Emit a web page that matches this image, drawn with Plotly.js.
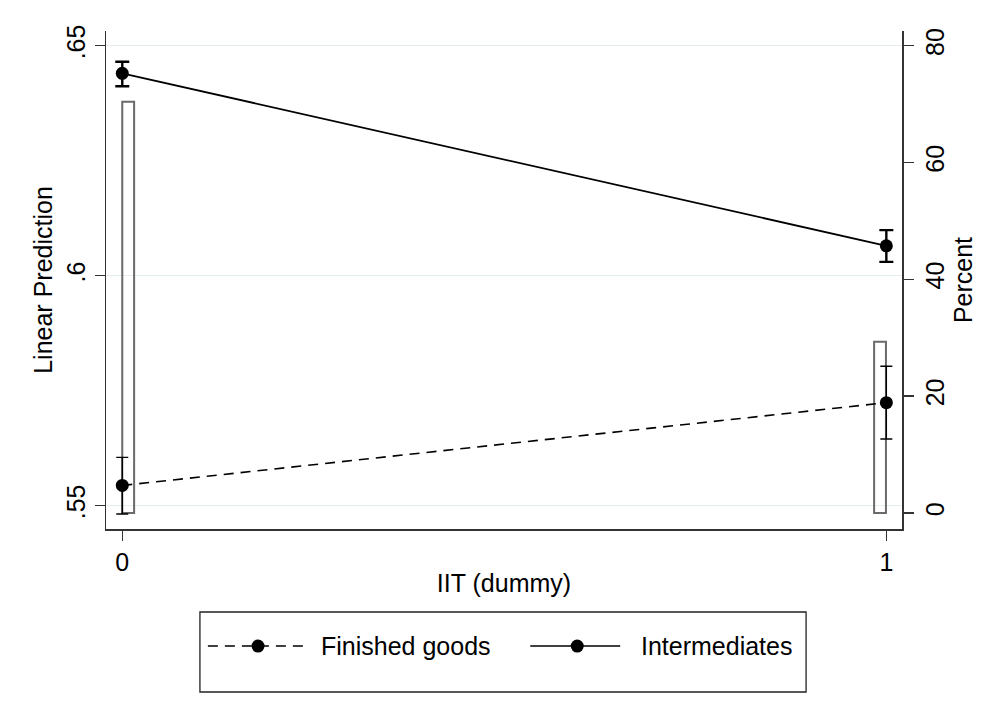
<!DOCTYPE html>
<html>
<head>
<meta charset="utf-8">
<script src="https://cdn.plot.ly/plotly-3.0.1.min.js"></script>
<style>
  html, body { margin: 0; padding: 0; background: #ffffff; }
  #chart { width: 988px; height: 725px; }
</style>
</head>
<body>
<div id="chart"></div>
<script>
// IIT dummy categories and margins (linear prediction with 95% CI)
const iit = [0, 1];
const xTickText = ['0', '1'];

const finishedFit = [0.5544, 0.5724];
const finishedLo  = [0.5482, 0.5645];
const finishedHi  = [0.5605, 0.5803];

const interFit = [0.6440, 0.6065];
const interLo  = [0.6412, 0.6030];
const interHi  = [0.6465, 0.6099];

// Histogram of the IIT dummy (percent of observations per bin)
const binStart = [0, 0.984];
const percent  = [70.4, 29.3];

const seriesNames = ['Finished goods', 'Intermediates'];
const leftTicks = [0.55, 0.6, 0.65];
const leftTickText = ['.55', '.6', '.65'];
const rightTicks = [0, 20, 40, 60, 80];
const rightTickText = ['0', '20', '40', '60', '80'];

const FONT = 'Liberation Sans, Arial, Helvetica, sans-serif';
const FS = 25;
const BIN_W = 0.0155;
const DASH = '10px,7px';

function diff(a, b) { return a.map((v, i) => v - b[i]); }

const histTrace = {
  type: 'bar',
  x: binStart,
  y: percent,
  width: BIN_W,
  offset: 0,
  xaxis: 'x',
  yaxis: 'y',
  marker: { color: 'rgba(0,0,0,0)', line: { color: '#6a6a6a', width: 2 } },
  showlegend: false,
  hoverinfo: 'skip'
};

const finishedTrace = {
  type: 'scatter',
  mode: 'lines+markers',
  name: seriesNames[0],
  x: iit,
  y: finishedFit,
  xaxis: 'x',
  yaxis: 'y2',
  line: { color: '#000000', width: 1.6, dash: DASH },
  marker: { color: '#000000', size: 13 },
  error_y: {
    type: 'data', symmetric: false,
    array: diff(finishedHi, finishedFit),
    arrayminus: diff(finishedFit, finishedLo),
    color: '#000000', thickness: 1.4, width: 6
  },
  showlegend: false
};

const interTrace = {
  type: 'scatter',
  mode: 'lines+markers',
  name: seriesNames[1],
  x: iit,
  y: interFit,
  xaxis: 'x',
  yaxis: 'y2',
  line: { color: '#000000', width: 1.8 },
  marker: { color: '#000000', size: 13 },
  error_y: {
    type: 'data', symmetric: false,
    array: diff(interHi, interFit),
    arrayminus: diff(interFit, interLo),
    color: '#000000', thickness: 2.4, width: 7
  },
  showlegend: false
};

// Custom legend box below the plot area (paper coordinates)
const legY = -0.235;
const legendItems = [
  { x0: 0.128, x1: 0.250, xm: 0.191, xt: 0.268, dash: 'dash' },
  { x0: 0.533, x1: 0.646, xm: 0.592, xt: 0.670, dash: 'solid' }
];
const shapes = [
  { type: 'rect', xref: 'paper', yref: 'paper', x0: 0.118, x1: 0.8795, y0: -0.3273, y1: -0.1667,
    line: { color: '#222222', width: 1.3 }, fillcolor: 'rgba(0,0,0,0)' }
];
const annotations = [];
legendItems.forEach((it, i) => {
  shapes.push({ type: 'line', xref: 'paper', yref: 'paper', x0: it.x0, x1: it.x1, y0: legY, y1: legY,
    line: { color: '#000000', width: 1.6, dash: it.dash === 'dash' ? DASH : 'solid' } });
  shapes.push({ type: 'circle', xref: 'paper', yref: 'paper', xsizemode: 'pixel', ysizemode: 'pixel',
    xanchor: it.xm, yanchor: legY, x0: -6.5, x1: 6.5, y0: -6.5, y1: 6.5,
    fillcolor: '#000000', line: { color: '#000000', width: 0 } });
  annotations.push({ xref: 'paper', yref: 'paper', x: it.xt, y: legY, xanchor: 'left', yanchor: 'middle',
    text: seriesNames[i], showarrow: false, font: { family: FONT, size: FS, color: '#000000' } });
});

const layout = {
  width: 988,
  height: 725,
  margin: { l: 106, r: 86, t: 31, b: 196 },
  paper_bgcolor: '#ffffff',
  plot_bgcolor: '#ffffff',
  font: { family: FONT, size: FS, color: '#000000' },
  showlegend: false,
  bargap: 0,
  xaxis: {
    range: [-0.0213, 1.0205],
    tickvals: iit,
    ticktext: xTickText,
    ticks: 'outside', ticklen: 10, tickwidth: 1.5, tickcolor: '#333333',
    showline: true, linecolor: '#333333', linewidth: 1.5,
    showgrid: false, zeroline: false,
    title: { text: 'IIT (dummy)', font: { family: FONT, size: FS }, standoff: 0 },
    tickfont: { family: FONT, size: FS }
  },
  yaxis: {
    side: 'right',
    range: [-2.74, 82.52],
    tickvals: rightTicks,
    ticktext: rightTickText,
    tickangle: -90,
    ticks: 'outside', ticklen: 10, tickwidth: 1.5, tickcolor: '#333333',
    showline: true, linecolor: '#333333', linewidth: 1.5,
    showgrid: false, zeroline: false,
    title: { text: 'Percent', font: { family: FONT, size: FS }, standoff: 0 },
    tickfont: { family: FONT, size: FS }
  },
  yaxis2: {
    side: 'left',
    overlaying: 'y',
    range: [0.54493, 0.6532],
    tickvals: leftTicks,
    ticktext: leftTickText,
    tickangle: -90,
    ticks: 'outside', ticklen: 10, tickwidth: 1.5, tickcolor: '#333333',
    showline: true, linecolor: '#333333', linewidth: 1.5,
    showgrid: true, gridcolor: '#e4edf0', gridwidth: 1.5,
    zeroline: false,
    title: { text: 'Linear Prediction', font: { family: FONT, size: FS }, standoff: 2 },
    tickfont: { family: FONT, size: FS }
  },
  shapes: shapes,
  annotations: annotations
};

Plotly.newPlot('chart', [histTrace, finishedTrace, interTrace], layout, { displayModeBar: false, staticPlot: true });
</script>
</body>
</html>
